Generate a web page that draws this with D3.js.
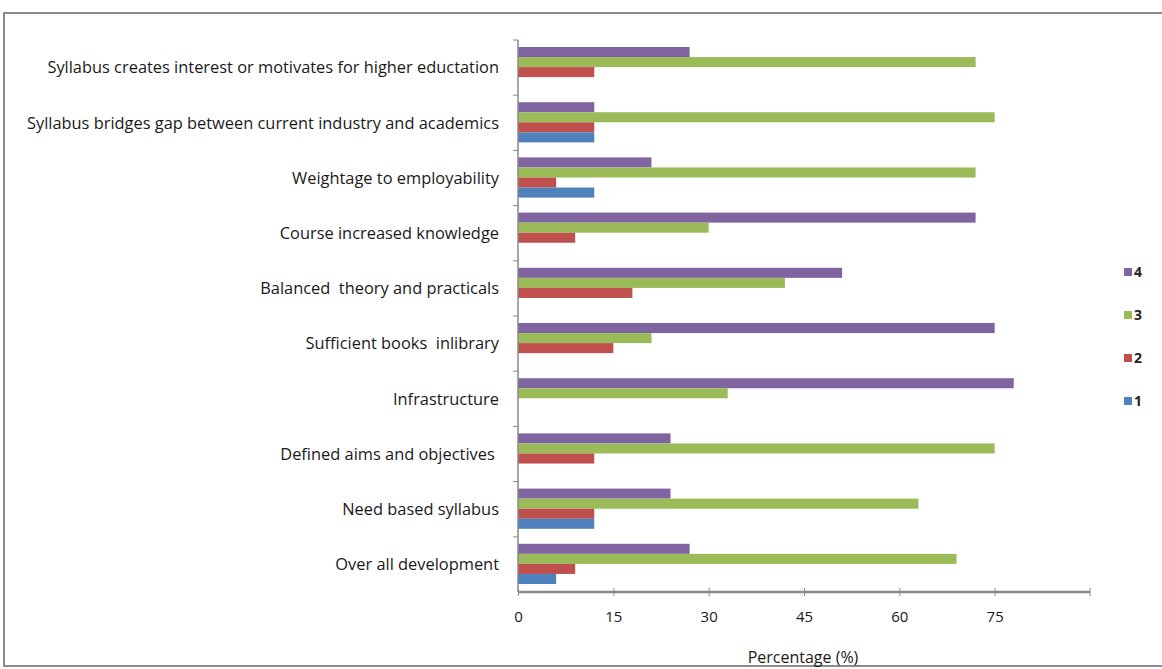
<!DOCTYPE html>
<html>
<head>
<meta charset="utf-8">
<script src="https://cdn.jsdelivr.net/npm/d3@7"></script>
<style>
  html, body { margin: 0; padding: 0; background: #fff; }
  svg { display: block; }
  .cat { font-family: "Open Sans", sans-serif; font-size: 16.4px; fill: #1a1a1a; white-space: pre; }
  .tick text { font-family: "Open Sans", sans-serif; font-size: 15px; fill: #1a1a1a; }
</style>
</head>
<body>
<svg id="chart" width="1162" height="669"></svg>
<script>
// Survey items, top to bottom
const categories = [
  "Syllabus creates interest or motivates for higher eductation",
  "Syllabus bridges gap between current industry and academics",
  "Weightage to employability",
  "Course increased knowledge",
  "Balanced  theory and practicals",
  "Sufficient books  inlibrary",
  "Infrastructure",
  "Defined aims and objectives ",
  "Need based syllabus",
  "Over all development"
];

// Percentage of responses for each rating level
const rating4 = [27, 12, 21, 72, 51, 75, 78, 24, 24, 27];
const rating3 = [72, 75, 72, 30, 42, 21, 33, 75, 63, 69];
const rating2 = [12, 12, 6, 9, 18, 15, 0, 12, 12, 9];
const rating1 = [0, 12, 12, 0, 0, 0, 0, 0, 12, 6];

const seriesNames = ["4", "3", "2", "1"];
const seriesValues = [rating4, rating3, rating2, rating1];
const seriesColors = ["#8064A2", "#9BBB59", "#C0504D", "#4F81BD"];

const xTicks = [0, 15, 30, 45, 60, 75];
const xMax = 90;
const axisTitle = "Percentage (%)";

const svg = d3.select("#chart");

// outer frame
svg.append("rect")
  .attr("x", 4).attr("y", 13)
  .attr("width", 1170).attr("height", 653)
  .attr("fill", "#fff")
  .attr("stroke", "#8c8c8c").attr("stroke-width", 2);

const plot = { left: 518, top: 40, right: 1090, bottom: 592 };

const x = d3.scaleLinear().domain([0, xMax]).range([plot.left, plot.right]);
const y = d3.scaleBand().domain(categories).range([plot.top, plot.bottom]).paddingInner(0).paddingOuter(0);
const inner = d3.scaleBand().domain(seriesNames).range([7, y.bandwidth() - 8]).padding(0);

// bars
const rows = svg.append("g");
categories.forEach((c, i) => {
  seriesNames.forEach((s, k) => {
    const v = seriesValues[k][i];
    if (!v) return;
    rows.append("rect")
      .attr("x", x(0))
      .attr("y", y(c) + inner(s))
      .attr("width", x(v) - x(0))
      .attr("height", inner.bandwidth())
      .attr("fill", seriesColors[k]);
  });
});

// category labels
svg.append("g").selectAll("text")
  .data(categories)
  .join("text")
  .attr("class", "cat")
  .attr("x", 499)
  .attr("y", d => y(d) + y.bandwidth() / 2)
  .attr("dy", "0.35em")
  .attr("text-anchor", "end")
  .text(d => d);

// vertical axis with ticks at band boundaries
const axisColor = "#8a8a8a";
svg.append("line")
  .attr("x1", plot.left).attr("x2", plot.left)
  .attr("y1", plot.top).attr("y2", plot.bottom)
  .attr("stroke", axisColor).attr("stroke-width", 1.5);
svg.append("g").selectAll("line")
  .data(categories)
  .join("line")
  .attr("x1", plot.left - 5).attr("x2", plot.left)
  .attr("y1", d => y(d)).attr("y2", d => y(d))
  .attr("stroke", axisColor);

// horizontal axis
const xAxis = d3.axisBottom(x).tickValues(xTicks).tickSize(5).tickPadding(14);
const gx = svg.append("g")
  .attr("transform", `translate(0,${plot.bottom})`)
  .call(xAxis);
gx.select(".domain").attr("stroke", axisColor).attr("stroke-width", 2.5)
  .attr("d", `M${plot.left},0H${plot.right}`);
gx.selectAll(".tick line").attr("stroke", axisColor).attr("y1", -4).attr("y2", 4);
gx.append("line").attr("x1", plot.right).attr("x2", plot.right).attr("y1", -4).attr("y2", 4).attr("stroke", axisColor);

svg.append("text")
  .attr("x", 803).attr("y", 663)
  .attr("text-anchor", "middle")
  .attr("font-family", "'Open Sans', sans-serif")
  .attr("font-size", 16)
  .attr("fill", "#1a1a1a")
  .text(axisTitle);

// legend
const legend = svg.append("g").attr("transform", "translate(1124,272)");
seriesNames.forEach((s, k) => {
  const g = legend.append("g").attr("transform", `translate(0,${k * 43})`);
  g.append("rect").attr("x", 0).attr("y", -4).attr("width", 8).attr("height", 8).attr("fill", seriesColors[k]);
  g.append("text").attr("x", 10).attr("y", 0).attr("dy", "0.35em")
    .attr("font-family", "'Open Sans', sans-serif").attr("font-size", 14).attr("font-weight", "bold")
    .attr("fill", "#222").text(s);
});
</script>
</body>
</html>
